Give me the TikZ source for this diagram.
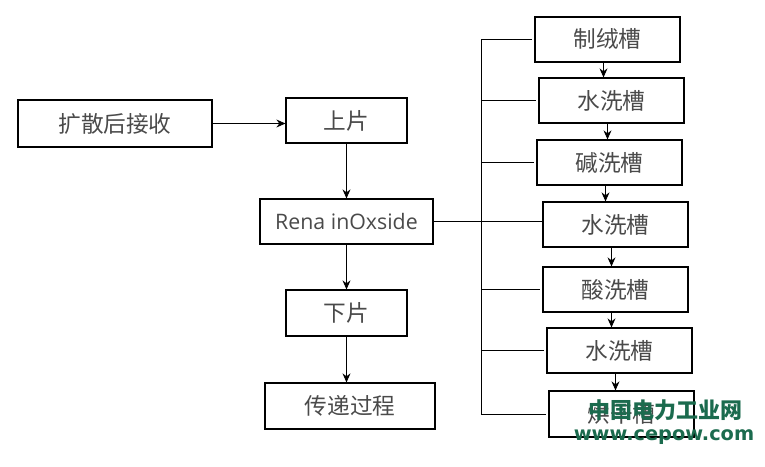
\documentclass[tikz,border=0pt]{standalone}
\usepackage{fontspec}
\setmainfont{Open Sans}
\newfontfamily\cjk{Noto Sans CJK SC}
\newfontfamily\markfont{DejaVu Sans}
\usetikzlibrary{arrows.meta}
\definecolor{boxtext}{HTML}{4A4A4A}
\definecolor{markcolor}{HTML}{1B6B4E}
\tikzset{
  flow box/.style={draw=black,line width=.8pt,text=boxtext,inner sep=0pt,
    font=\cjk\fontsize{17}{17}\selectfont},
  tank box/.style={flow box,minimum width=108.75pt,minimum height=33.75pt},
  flow arrow/.style={black,line width=.7pt,-{Stealth[length=2.4mm,width=2.1mm]}},
  flow line/.style={black,line width=.7pt},
  mark text/.style={text=markcolor,font=\cjk\bfseries\fontsize{16.5}{16.5}\selectfont}
}

\begin{document}
\begin{tikzpicture}[x=.75pt,y=-.75pt]
  \useasboundingbox (0,0) rectangle (765,467);
  % line of the wafer
  \node[flow box,minimum width=145.5pt,minimum height=35.25pt] (recv) at (115,123.5) {扩散后接收};
  \node[flow box,minimum width=90.75pt,minimum height=33.75pt] (load) at (346.5,120.5) {上片};
  \node[flow box,minimum width=129.75pt,minimum height=33.75pt,font=\fontsize{16}{16}\selectfont] (rena) at (346.5,221.5) {Rena inOxside};
  \node[flow box,minimum width=90.75pt,minimum height=34.5pt] (unload) at (346.5,313) {下片};
  \node[flow box,minimum width=127.5pt,minimum height=34.5pt] (trans) at (350,406) {传递过程};
  \draw[flow arrow] (recv.east) -- (recv.east -| load.west);
  \draw[flow arrow] (load.south) -- (rena.north);
  \draw[flow arrow] (rena.south) -- (unload.north);
  \draw[flow arrow] (unload.south) -- (unload.south |- trans.north);
  % tanks
  \node[tank box] (texture) at (607.5,39.5) {制绒槽};
  \node[tank box] (rinseA) at (611.5,100.5) {水洗槽};
  \node[tank box] (alkali) at (609.5,162.5) {碱洗槽};
  \node[tank box] (rinseB) at (615.5,224.5) {水洗槽};
  \node[tank box] (acid) at (615.5,289.5) {酸洗槽};
  \node[tank box] (rinseC) at (619.5,350.5) {水洗槽};
  \node[tank box,minimum height=34.5pt] (dry) at (621.5,414) {烘干槽};
  \foreach \a/\b in {texture/rinseA,rinseA/alkali,alkali/rinseB,rinseB/acid,acid/rinseC,rinseC/dry}
    \draw[flow arrow] ([xshift=-3pt]\a.south) -- ([xshift=-3pt]\a.south |- \b.north);
  % bracket
  \coordinate (bus) at (481,0);
  \draw[flow line] (texture.west -| bus) -- (dry.west -| bus);
  \foreach \t in {texture,rinseA,alkali,acid,rinseC,dry}
    \draw[flow line] (\t.west -| bus) -- ([xshift=-2pt]\t.west);
  \draw[flow line] (rena.east) -- (rena.east -| rinseB.west);
  % watermark
  \node[mark text] (markcn) at (665,410) {中国电力工业网};
  \node[text=markcolor,font=\markfont\bfseries\fontsize{14.5}{14.5}\selectfont] (markurl) at (664,437) {www.cepow.com};
\end{tikzpicture}
\end{document}
